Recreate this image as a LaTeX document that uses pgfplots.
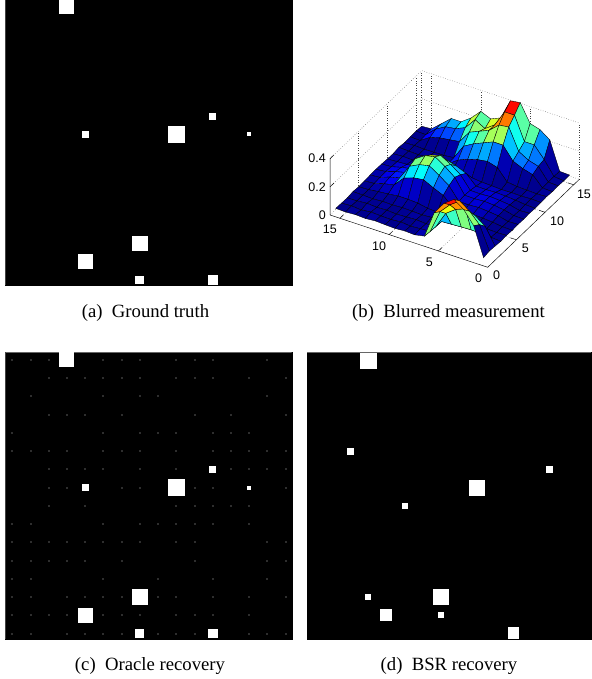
\documentclass[border=0pt]{standalone}
\usepackage{pgfplots}
\pgfplotsset{compat=1.18}
\usepackage{fontspec}
\setmainfont{Liberation Serif}
\newfontfamily\hel{Liberation Sans}
\pgfplotsset{
 img/.style={scale only axis, ticks=none, y dir=reverse, clip=true,
   axis background/.style={fill=black}, axis line style={draw=black, line width=.2pt}, anchor=south west},
 sq/.style={only marks, mark=square*, color=white, mark options={line width=0pt, solid}, mark size=#1},
 dot/.style={only marks, mark=square*, color=black!82, mark options={line width=0pt, solid}, mark size=.5pt},
 edge/.style={no marks, black!60, line width=.9pt, solid},
 wall/.style={no marks, dotted, black!75, line width=.45pt},
 solidaxis/.style={no marks, black, line width=.45pt, solid}
}
\newcommand{\tl}[1]{{\hel\fontsize{12.5}{14}\selectfont #1}}
\begin{document}
\begin{tikzpicture}[x=1pt,y=1pt]
\path[use as bounding box] (0,0) rectangle (591,679);
% (a)
\begin{axis}[img, at={(5.3pt,394pt)}, width=286.4pt, height=285pt, xmin=-0.384, xmax=15.33, ymin=-0.38, ymax=15.27]
\addplot[edge] coordinates {(-0.384,-0.38)(-0.384,15.27)(15.33,15.27)};
\addplot[sq=7pt] coordinates {(3,0)};
\addplot[sq=2.9pt] coordinates {(11,6)};
\addplot[sq=2.9pt] coordinates {(4,7)};
\addplot[sq=7.7pt] coordinates {(9,7)};
\addplot[sq=1.5pt] coordinates {(13,7)};
\addplot[sq=7.2pt] coordinates {(7,13)};
\addplot[sq=7pt] coordinates {(4,14)};
\addplot[sq=3.9pt] coordinates {(7,15)};
\addplot[sq=4.3pt] coordinates {(11,15)};
\end{axis}
% (c)
\begin{axis}[img, at={(5.3pt,40pt)}, width=286.4pt, height=286.7pt, xmin=-0.384, xmax=15.33, ymin=-0.42, ymax=15.3]
\addplot[edge] coordinates {(-0.384,15.3)(-0.384,-0.42)(15.33,-0.42)};
\addplot[dot] coordinates {
(0,0)(1,0)(2,0)(5,0)(6,0)(7,0)(9,0)(10,0)(11,0)(14,0)
(2,1)(3,1)(4,1)(5,1)(6,1)(7,1)(9,1)(10,1)(11,1)(13,1)(15,1)
(1,2)(5,2)(7,2)(8,2)(14,2)
(2,3)(3,3)(4,3)(6,3)(10,3)(12,3)(15,3)
(0,4)(5,4)(7,4)(8,4)(9,4)(11,4)(12,4)(13,4)
(0,5)(1,5)(2,5)(3,5)(5,5)(6,5)(7,5)(9,5)(11,5)(12,5)(13,5)(14,5)(15,5)
(2,6)(3,6)(4,6)(5,6)(7,6)(9,6)(12,6)(13,6)(14,6)(15,6)
(2,7)(3,7)(6,7)(7,7)(10,7)(11,7)(15,7)
(2,8)(4,8)(9,8)(10,8)(11,8)(12,8)(13,8)
(0,9)(1,9)(5,9)(7,9)(8,9)(9,9)(10,9)(11,9)(13,9)
(0,10)(1,10)(2,10)(3,10)(4,10)(5,10)(6,10)(7,10)(9,10)(10,10)(14,10)(15,10)
(0,11)(1,11)(2,11)(3,11)(4,11)(6,11)(10,11)(14,11)(15,11)
(0,12)(1,12)(5,12)(8,12)(11,12)(14,12)
(0,13)(1,13)(3,13)(4,13)(5,13)(6,13)(8,13)(9,13)(11,13)(13,13)(15,13)
(0,14)(1,14)(2,14)(3,14)(5,14)(6,14)(7,14)(9,14)(10,14)(11,14)(13,14)
(0,15)(1,15)(3,15)(4,15)(5,15)(6,15)(8,15)(9,15)(10,15)(13,15)(14,15)(15,15)
};
\addplot[sq=7pt] coordinates {(3,0)};
\addplot[sq=3pt] coordinates {(11,6)};
\addplot[sq=2.9pt] coordinates {(4,7)};
\addplot[sq=7.7pt] coordinates {(9,7)};
\addplot[sq=1.5pt] coordinates {(13,7)};
\addplot[sq=7.2pt] coordinates {(7,13)};
\addplot[sq=7pt] coordinates {(4,14)};
\addplot[sq=3.9pt] coordinates {(7,15)};
\addplot[sq=4.3pt] coordinates {(11,15)};
\end{axis}
% (d)
\begin{axis}[img, at={(307pt,40.3pt)}, width=284pt, height=286.4pt, xmin=-0.38, xmax=15.28, ymin=-0.48, ymax=15.3]
\addplot[edge] coordinates {(-0.38,-0.48)(15.28,-0.48)};
\addplot[sq=7.7pt] coordinates {(3,0)};
\addplot[sq=2.9pt] coordinates {(2,5)};
\addplot[sq=3pt] coordinates {(13,6)};
\addplot[sq=7.6pt] coordinates {(9,7)};
\addplot[sq=2.5pt] coordinates {(5,8)};
\addplot[sq=2.5pt] coordinates {(3,13)};
\addplot[sq=5.5pt] coordinates {(4,14)};
\addplot[sq=7.5pt] coordinates {(7,13)};
\addplot[sq=2.5pt] coordinates {(7,14)};
\addplot[sq=5.3pt] coordinates {(11,15)};
\end{axis}
% (b)
\begin{axis}[at={(487.7pt,411.7pt)}, anchor=origin,
 x={(-9.854pt,3.27pt)}, y={(5.73pt,5.5pt)}, z={(0pt,140.8pt)},
 xmin=0,xmax=16,ymin=0,ymax=16,zmin=0,zmax=0.4,
 hide axis, clip=false, colormap/jet, point meta min=0, point meta max=0.41]
% back walls and floor, dotted
\addplot3[wall] coordinates {(16,0,0)(16,16,0)(0,16,0)};
\addplot3[wall] coordinates {(16,0,0.2)(16,16,0.2)(0,16,0.2)};
\addplot3[wall] coordinates {(16,0,0.4)(16,16,0.4)(0,16,0.4)};
\addplot3[wall] coordinates {(16,16,0)(16,16,0.4)};
\addplot3[wall] coordinates {(16,5,0)(16,5,0.4)};
\addplot3[wall] coordinates {(16,10,0)(16,10,0.4)};
\addplot3[wall] coordinates {(16,15,0)(16,15,0.4)};
\addplot3[wall] coordinates {(0,16,0)(0,16,0.4)};
\addplot3[wall] coordinates {(5,16,0)(5,16,0.4)};
\addplot3[wall] coordinates {(10,16,0)(10,16,0.4)};
\addplot3[wall] coordinates {(15,16,0)(15,16,0.4)};
\addplot3[wall] coordinates {(5,0,0)(5,16,0)};
\addplot3[wall] coordinates {(10,0,0)(10,16,0)};
\addplot3[wall] coordinates {(15,0,0)(15,16,0)};
\addplot3[wall] coordinates {(0,5,0)(16,5,0)};
\addplot3[wall] coordinates {(0,10,0)(16,10,0)};
\addplot3[wall] coordinates {(0,15,0)(16,15,0)};
% axes and ticks
\addplot3[solidaxis] coordinates {(16,0,0.4)(16,0,0)(0,0,0)(0,16,0)};
\addplot3[solidaxis] coordinates {(5,0,0)(5,0.6,0)};
\addplot3[solidaxis] coordinates {(10,0,0)(10,0.6,0)};
\addplot3[solidaxis] coordinates {(15,0,0)(15,0.6,0)};
\addplot3[solidaxis] coordinates {(0,5,0)(0.6,5,0)};
\addplot3[solidaxis] coordinates {(0,10,0)(0.6,10,0)};
\addplot3[solidaxis] coordinates {(0,15,0)(0.6,15,0)};
\addplot3[solidaxis] coordinates {(16,0,0.2)(16,0.7,0.2)};
\addplot3[solidaxis] coordinates {(16,0,0.4)(16,0.7,0.4)};
\addplot3[surf, shader=flat corner, draw=black, line width=.35pt, z buffer=reverse xy seq, mesh/cols=16] coordinates {
(1,1,0.006)(2,1,0.21)(3,1,0.30)(4,1,0.35)(5,1,0.30)(6,1,0.21)(7,1,0.02)(8,1,0.006)(9,1,0.01)(10,1,0.005)(11,1,0.008)(12,1,0.012)(13,1,0.006)(14,1,0.01)(15,1,0.005)(16,1,0.008)
(1,2,0.014)(2,2,0.178)(3,2,0.25)(4,2,0.30)(5,2,0.25)(6,2,0.178)(7,2,0.014)(8,2,0.01)(9,2,0.005)(10,2,0.012)(11,2,0.006)(12,2,0.008)(13,2,0.012)(14,2,0.004)(15,2,0.01)(16,2,0.006)
(1,3,0.01)(2,3,0.127)(3,3,0.178)(4,3,0.205)(5,3,0.178)(6,3,0.127)(7,3,0.01)(8,3,0.006)(9,3,0.012)(10,3,0.008)(11,3,0.005)(12,3,0.01)(13,3,0.007)(14,3,0.012)(15,3,0.006)(16,3,0.004)
(1,4,0.005)(2,4,0.01)(3,4,0.014)(4,4,0.017)(5,4,0.014)(6,4,0.01)(7,4,0.006)(8,4,0.012)(9,4,0.007)(10,4,0.01)(11,4,0.012)(12,4,0.008)(13,4,0.01)(14,4,0.005)(15,4,0.008)(16,4,0.01)
(1,5,0.008)(2,5,0.005)(3,5,0.008)(4,5,0.006)(5,5,0.01)(6,5,0.006)(7,5,0.009)(8,5,0.01)(9,5,0.014)(10,5,0.028)(11,5,0.032)(12,5,0.032)(13,5,0.023)(14,5,0.017)(15,5,0.008)(16,5,0.005)
(1,6,0.005)(2,6,0.007)(3,6,0.016)(4,6,0.022)(5,6,0.025)(6,6,0.022)(7,6,0.023)(8,6,0.09)(9,6,0.12)(10,6,0.155)(11,6,0.145)(12,6,0.12)(13,6,0.048)(14,6,0.034)(15,6,0.013)(16,6,0.007)
(1,7,0.008)(2,7,0.005)(3,7,0.022)(4,7,0.03)(5,7,0.035)(6,7,0.03)(7,7,0.032)(8,7,0.12)(9,7,0.17)(10,7,0.215)(11,7,0.20)(12,7,0.165)(13,7,0.06)(14,7,0.042)(15,7,0.017)(16,7,0.01)
(1,8,0.006)(2,8,0.008)(3,8,0.025)(4,8,0.035)(5,8,0.04)(6,8,0.035)(7,8,0.037)(8,8,0.14)(9,8,0.195)(10,8,0.24)(11,8,0.225)(12,8,0.18)(13,8,0.059)(14,8,0.042)(15,8,0.019)(16,8,0.012)
(1,9,0.009)(2,9,0.005)(3,9,0.022)(4,9,0.03)(5,9,0.035)(6,9,0.03)(7,9,0.032)(8,9,0.12)(9,9,0.17)(10,9,0.21)(11,9,0.19)(12,9,0.15)(13,9,0.047)(14,9,0.033)(15,9,0.015)(16,9,0.01)
(1,10,0.005)(2,10,0.008)(3,10,0.016)(4,10,0.022)(5,10,0.025)(6,10,0.022)(7,10,0.023)(8,10,0.09)(9,10,0.12)(10,10,0.14)(11,10,0.12)(12,10,0.095)(13,10,0.02)(14,10,0.015)(15,10,0.011)(16,10,0.007)
(1,11,0.007)(2,11,0.01)(3,11,0.006)(4,11,0.008)(5,11,0.006)(6,11,0.01)(7,11,0.013)(8,11,0.02)(9,11,0.021)(10,11,0.02)(11,11,0.011)(12,11,0.007)(13,11,0.009)(14,11,0.006)(15,11,0.01)(16,11,0.005)
(1,12,0.01)(2,12,0.006)(3,12,0.009)(4,12,0.012)(5,12,0.02)(6,12,0.10)(7,12,0.12)(8,12,0.11)(9,12,0.09)(10,12,0.06)(11,12,0.01)(12,12,0.006)(13,12,0.01)(14,12,0.005)(15,12,0.008)(16,12,0.012)
(1,13,0.006)(2,13,0.009)(3,13,0.08)(4,13,0.10)(5,13,0.13)(6,13,0.22)(7,13,0.22)(8,13,0.19)(9,13,0.16)(10,13,0.12)(11,13,0.015)(12,13,0.008)(13,13,0.007)(14,13,0.005)(15,13,0.009)(16,13,0.006)
(1,14,0.008)(2,14,0.012)(3,14,0.10)(4,14,0.12)(5,14,0.16)(6,14,0.31)(7,14,0.30)(8,14,0.24)(9,14,0.21)(10,14,0.18)(11,14,0.09)(12,14,0.08)(13,14,0.07)(14,14,0.05)(15,14,0.005)(16,14,0.008)
(1,15,0.005)(2,15,0.012)(3,15,0.11)(4,15,0.19)(5,15,0.19)(6,15,0.355)(7,15,0.355)(8,15,0.24)(9,15,0.19)(10,15,0.23)(11,15,0.15)(12,15,0.12)(13,15,0.11)(14,15,0.07)(15,15,0.008)(16,15,0.01)
(1,16,0.007)(2,16,0.01)(3,16,0.21)(4,16,0.26)(5,16,0.28)(6,16,0.405)(7,16,0.395)(8,16,0.25)(9,16,0.22)(10,16,0.25)(11,16,0.18)(12,16,0.13)(13,16,0.13)(14,16,0.07)(15,16,0.01)(16,16,0.005)
};
\node[inner sep=0pt,xshift=-9pt,yshift=-11pt] at (axis cs:0,0,0) {\tl{0}};
\node[inner sep=0pt,xshift=-9pt,yshift=-11pt] at (axis cs:5,0,0) {\tl{5}};
\node[inner sep=0pt,xshift=-10pt,yshift=-11.5pt] at (axis cs:10,0,0) {\tl{10}};
\node[inner sep=0pt,xshift=-10pt,yshift=-11.5pt] at (axis cs:15,0,0) {\tl{15}};
\node[inner sep=0pt,xshift=9pt,yshift=-8pt] at (axis cs:0,0,0) {\tl{0}};
\node[inner sep=0pt,xshift=9pt,yshift=-8pt] at (axis cs:0,5,0) {\tl{5}};
\node[inner sep=0pt,xshift=12pt,yshift=-9pt] at (axis cs:0,10,0) {\tl{10}};
\node[inner sep=0pt,xshift=10.3pt,yshift=-9pt] at (axis cs:0,15,0) {\tl{15}};
\node[anchor=east,inner sep=0pt,xshift=-4pt] at (axis cs:16,0,0) {\tl{0}};
\node[anchor=east,inner sep=0pt,xshift=-4pt] at (axis cs:16,0,0.2) {\tl{0.2}};
\node[anchor=east,inner sep=0pt,xshift=-4pt] at (axis cs:16,0,0.4) {\tl{0.4}};
\end{axis}
\node[font=\fontsize{18.7}{20}\selectfont, anchor=base] at (145.5,361) {(a)\ \ Ground truth};
\node[font=\fontsize{18.7}{20}\selectfont, anchor=base] at (448.5,361) {(b)\ \ Blurred measurement};
\node[font=\fontsize{18.7}{20}\selectfont, anchor=base] at (150,8.3) {(c)\ \ Oracle recovery};
\node[font=\fontsize{18.7}{20}\selectfont, anchor=base] at (449,8.3) {(d)\ \ BSR recovery};
\end{tikzpicture}
\end{document}
